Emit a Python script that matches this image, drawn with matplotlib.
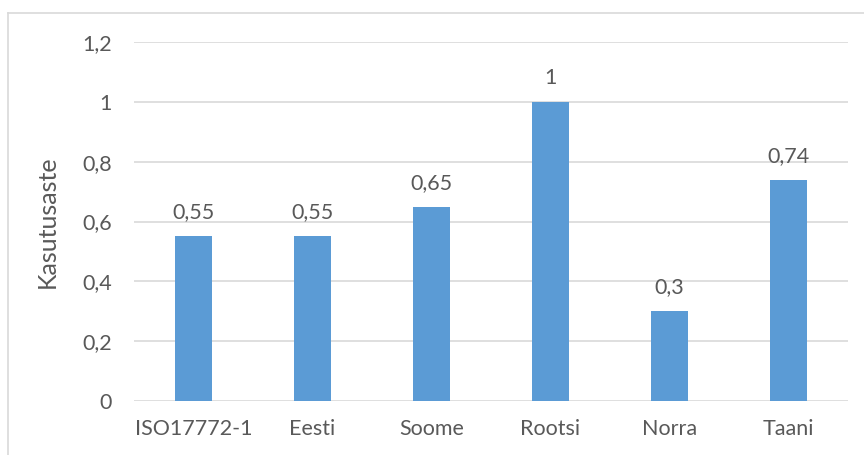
import matplotlib.pyplot as plt
from matplotlib.lines import Line2D

categories = ['ISO17772-1', 'Eesti', 'Soome', 'Rootsi', 'Norra', 'Taani']
values = [0.55, 0.55, 0.65, 1.0, 0.3, 0.74]
yticks = [0, 0.2, 0.4, 0.6, 0.8, 1.0, 1.2]

bar_color = '#5b9bd5'
text_color = '#595959'
grid_color = '#d9d9d9'

plt.rcParams['font.family'] = ['Lato', 'DejaVu Sans']

W, H = 864, 455
fig = plt.figure(figsize=(W / 100, H / 100), dpi=100)
ax = fig.add_axes([134 / W, 1 - 401 / H, (848 - 134) / W, (401 - 42) / H])

x = range(len(categories))
ax.bar(x, values, width=0.31, color=bar_color, zorder=3)


def fmt(v):
    return ('%g' % v).replace('.', ',')


fs = 15.5
for xi, v in zip(x, values):
    ax.annotate(fmt(v), (xi, v), xytext=(0, 10), textcoords='offset points',
                ha='center', va='bottom', fontsize=fs, color=text_color)

ax.set_xlim(-0.5, len(categories) - 0.5)
ax.set_ylim(0, 1.2)
ax.set_yticks(yticks)
ax.set_yticklabels([fmt(t) for t in yticks])
ax.set_xticks(list(x))
ax.set_xticklabels(categories)
ax.tick_params(axis='both', length=0, labelsize=fs, labelcolor=text_color)
ax.tick_params(axis='y', pad=16)
ax.tick_params(axis='x', pad=13)

ax.yaxis.grid(True, color=grid_color, linewidth=1.2, zorder=0)
for s in ax.spines.values():
    s.set_visible(False)

ax.set_ylabel('Kasutusaste', fontsize=18, color=text_color)
ax.yaxis.set_label_coords((59 - 134) / (848 - 134), 0.5)

# chart border, partly cut off at right and bottom
fig.add_artist(Line2D([8 / W, 8 / W], [1 - 13 / H, 0], color=grid_color, lw=1.2))
fig.add_artist(Line2D([8 / W, 1], [1 - 13 / H, 1 - 13 / H], color=grid_color, lw=1.2))

fig.savefig('out.png', dpi=100)
